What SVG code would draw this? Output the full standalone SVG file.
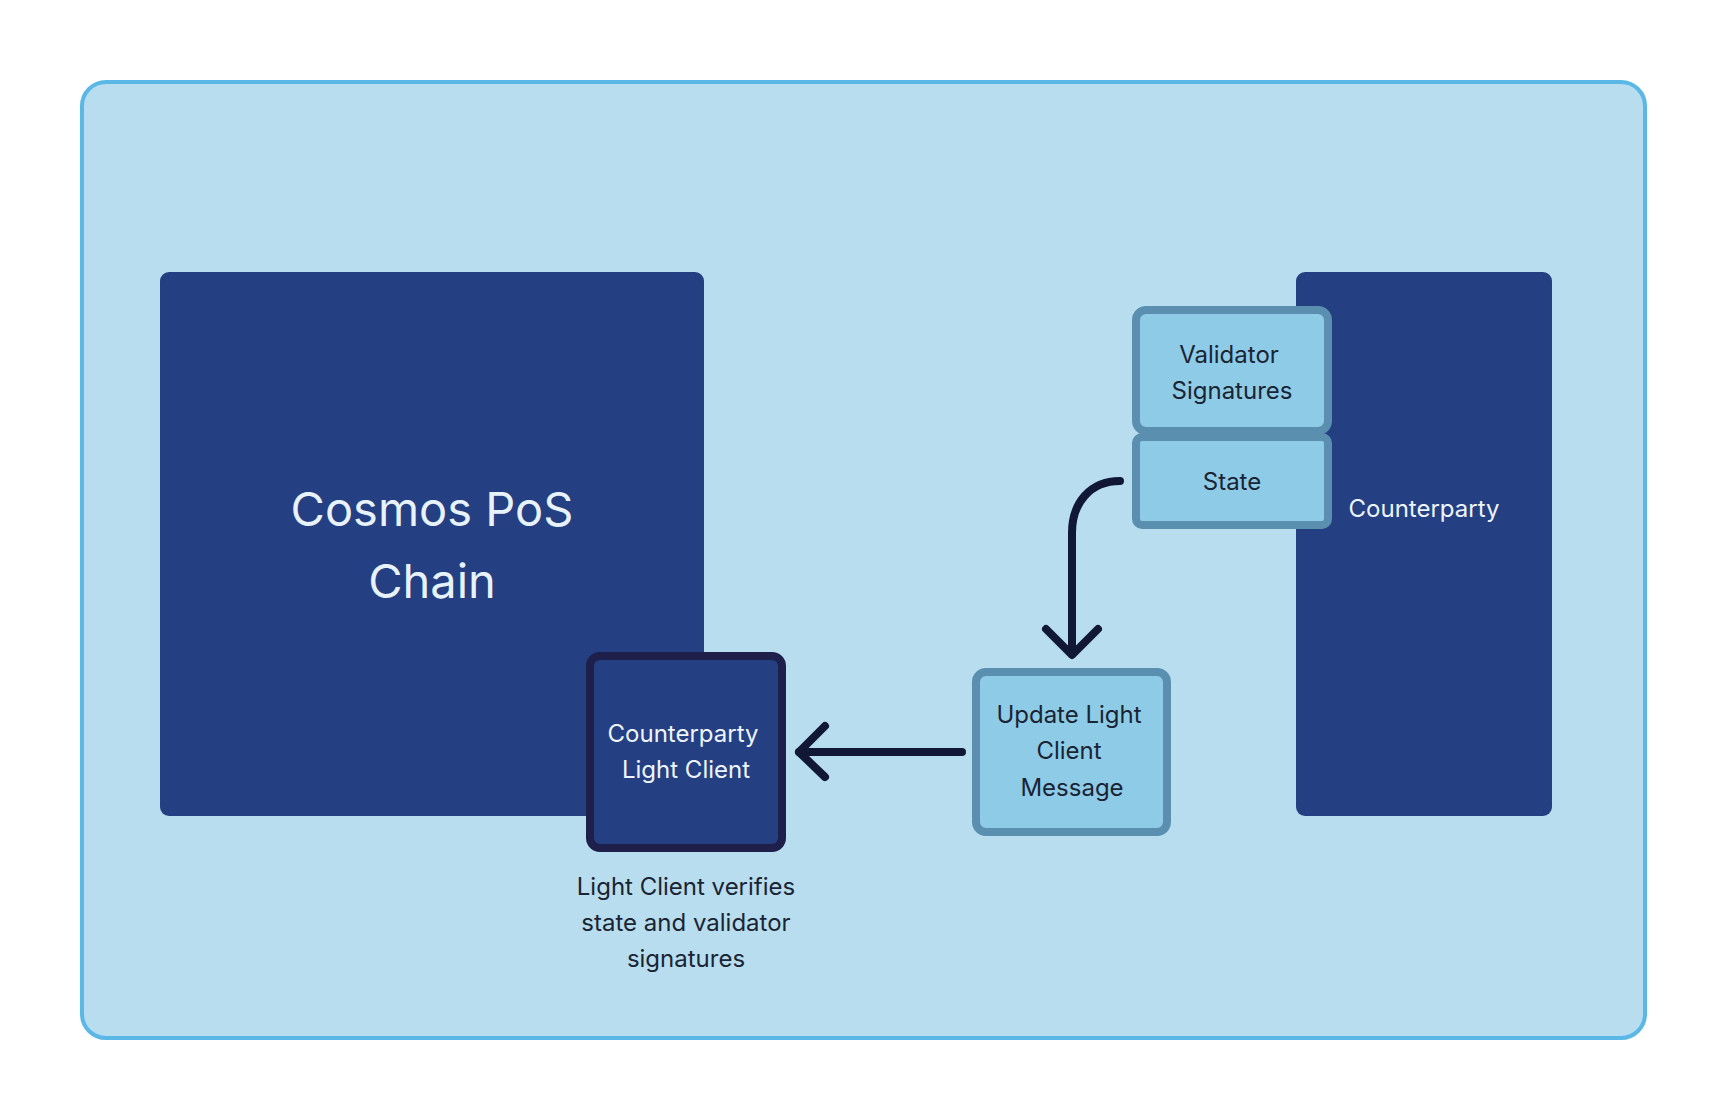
<svg xmlns="http://www.w3.org/2000/svg" width="1728" height="1120" viewBox="0 0 1728 1120">
<style>
text{font-family:Inter,"Noto Sans","Liberation Sans",sans-serif;text-anchor:middle}
.dark{fill:#243F82}
.light{fill:#8ECBE7;stroke:#5A8FAF;stroke-width:8}
.lt{font-size:24px;fill:#1A2433}
.wt{font-size:24px;fill:#EEF4FB}
.conn{fill:none;stroke:#111836;stroke-width:8;stroke-linecap:round;stroke-linejoin:round}
</style>
<rect x="0" y="0" width="1728" height="1120" fill="#FFFFFF"/>
<g id="frame">
<rect x="82" y="82" width="1563" height="956" rx="24" fill="#B8DDEF" stroke="#5BB8E6" stroke-width="4"/>
</g>
<g id="cosmos">
<rect class="dark" x="160" y="272" width="544" height="544" rx="9"/>
<text x="432" y="526" font-size="47" fill="#E8F2FA">Cosmos PoS</text>
<text x="432" y="598" font-size="47" fill="#E8F2FA">Chain</text>
</g>
<g id="counterparty">
<rect class="dark" x="1296" y="272" width="256" height="544" rx="9"/>
<text class="wt" x="1424" y="517">Counterparty</text>
</g>
<g id="validator-signatures">
<rect class="light" x="1136" y="310" width="192" height="121" rx="10"/>
<text class="lt" x="1229" y="363">Validator</text>
<text class="lt" x="1232" y="399">Signatures</text>
</g>
<g id="state">
<rect class="light" x="1136" y="437" width="192" height="88" rx="6"/>
<text class="lt" x="1232" y="490">State</text>
</g>
<g id="counterparty-light-client">
<rect x="590" y="656" width="192" height="192" rx="10" fill="#243F82" stroke="#1F1F4B" stroke-width="8"/>
<text class="wt" x="683" y="742">Counterparty</text>
<text class="wt" x="686" y="778">Light Client</text>
</g>
<g id="update-message">
<rect class="light" x="976" y="672" width="191" height="160" rx="10"/>
<text class="lt" x="1069" y="723">Update Light</text>
<text class="lt" x="1069" y="759">Client</text>
<text class="lt" x="1072" y="796">Message</text>
</g>
<g id="caption">
<text class="lt" x="686" y="895">Light Client verifies</text>
<text class="lt" x="686" y="931">state and validator</text>
<text class="lt" x="686" y="967">signatures</text>
</g>
<g id="connectors">
<path class="conn" d="M1120,481 C1090,481 1072,503 1072,533 L1072,654"/>
<path class="conn" d="M1046,629 L1072,655 L1098,629"/>
<path class="conn" d="M962,752 L799,752"/>
<path class="conn" d="M825,726 L799,752 L825,777"/>
</g>
</svg>
